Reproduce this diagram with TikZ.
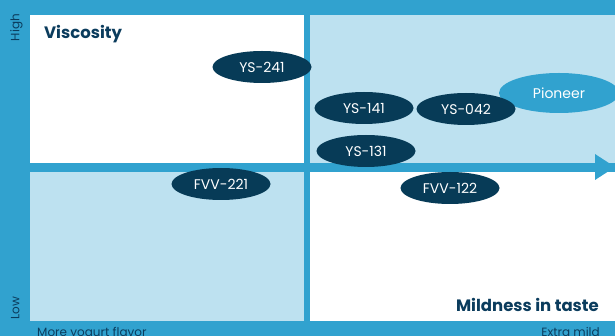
\documentclass[tikz,border=0pt]{standalone}
\usepackage{fontspec}
\setmainfont{Poppins}
\usetikzlibrary{shapes.geometric}
\definecolor{axisblue}{HTML}{31A2CF}
\definecolor{paleblue}{HTML}{BDE1F0}
\definecolor{navy}{HTML}{073B57}
\definecolor{inkblue}{HTML}{0B3C5D}
\begin{document}
\begin{tikzpicture}[x=1pt,y=-1pt,
  sample/.style={ellipse, fill=navy, text=white, inner sep=0pt,
    minimum width=99pt, minimum height=32pt, font=\fontsize{14}{14}\selectfont},
  leader/.style={sample, fill=axisblue, minimum width=120pt, minimum height=40pt},
  axistitle/.style={text=inkblue, inner sep=0pt, font=\fontsize{16.5}{17}\selectfont\bfseries},
  axisnote/.style={text=inkblue, inner sep=0pt, font=\fontsize{12}{12}\selectfont}]
\useasboundingbox (0,0) rectangle (615,336);
\clip (0,0) rectangle (615,336);
% background and quadrants
\fill[axisblue] (0,0) rectangle (615,336);
\fill[white] (30,15) rectangle (304,163);
\fill[paleblue] (310,15) rectangle (615,163);
\fill[paleblue] (30,172) rectangle (304,321);
\fill[white] (310,172) rectangle (615,321);
% arrow head of the horizontal axis
\fill[axisblue] (595,154) -- (615,167) -- (595,180) -- cycle;
% titles
\node[axistitle, anchor=base west] (visc) at (44,38.5) {Viscosity};
\node[axistitle, anchor=base east] (mild) at (599,311.5) {Mildness in taste};
\node[axisnote, rotate=90, anchor=base] (high) at (19.5,27.5) {High};
\node[axisnote, rotate=90, anchor=base] (low) at (19.5,308) {Low};
\node[axisnote, anchor=base west] (yog) at (37,336) {More yogurt flavor};
\node[axisnote, anchor=base east] (xmild) at (600,336) {Extra mild};
% samples
\node[leader] (pioneer) at (559,93) {Pioneer};
\node[sample] (ys241) at (262,67) {YS-241};
\node[sample] (ys141) at (364,108) {YS-141};
\node[sample] (ys042) at (466,109) {YS-042};
\node[sample] (ys131) at (366,151) {YS-131};
\node[sample] (fvv122) at (450,188) {FVV-122};
\node[sample] (fvv221) at (221,184) {FVV-221};
\end{tikzpicture}
\end{document}
